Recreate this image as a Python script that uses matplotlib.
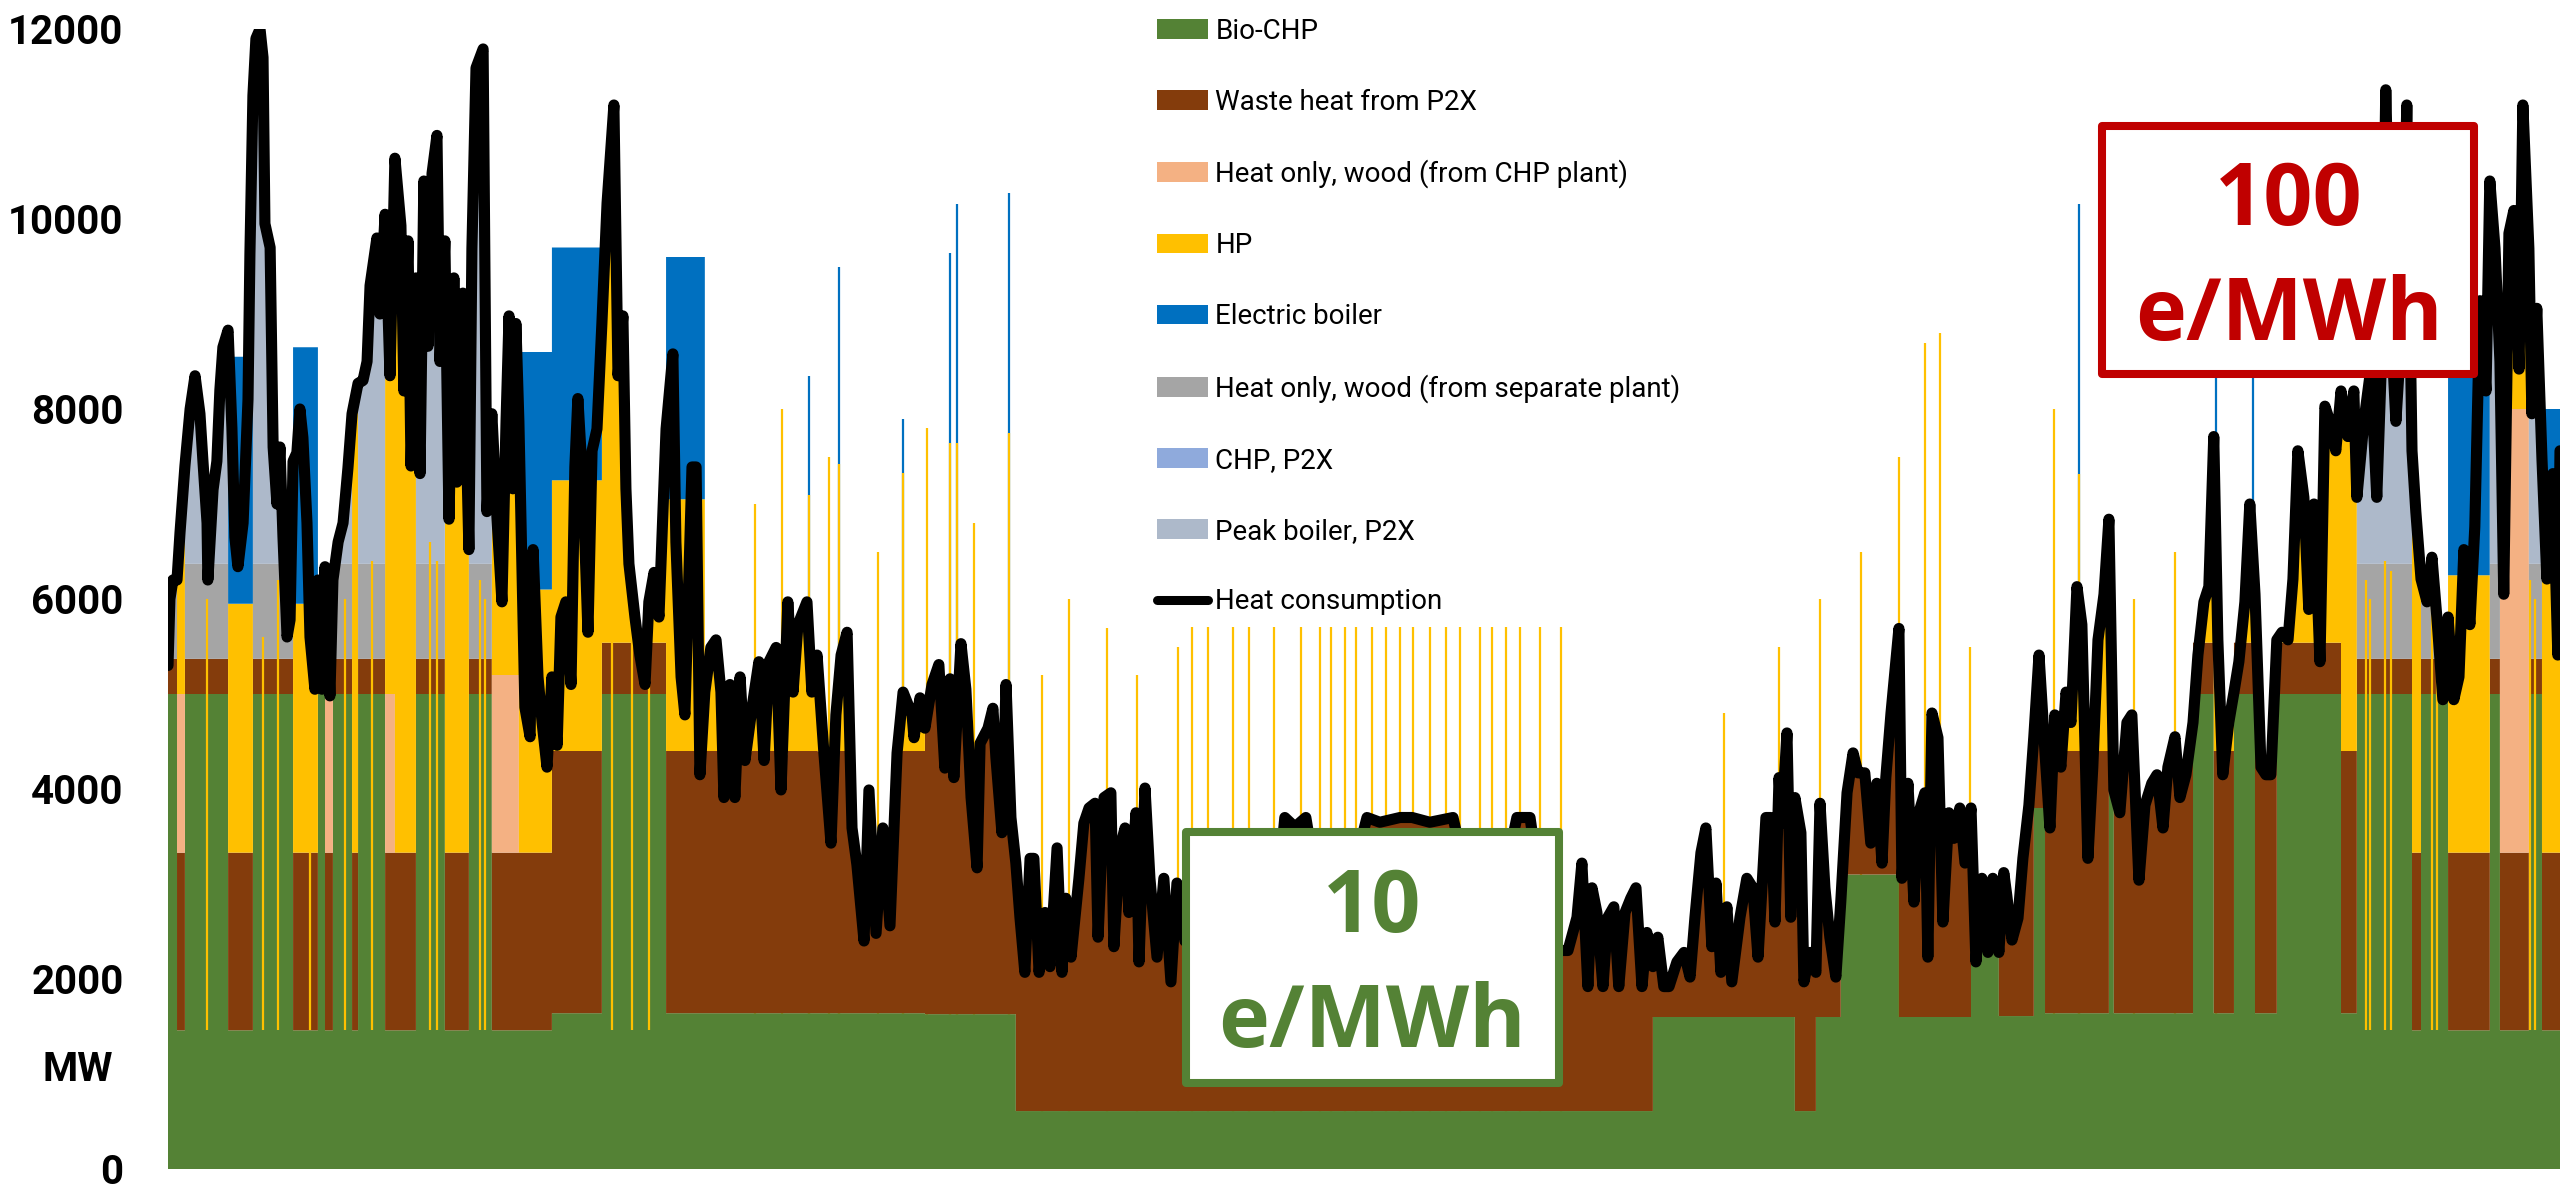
import numpy as np
import matplotlib.pyplot as plt
from matplotlib.patches import Rectangle

# hour of year -> heat consumption (MW)
hours = np.array([
    0, 7, 18, 33, 44, 62, 81, 99, 117, 128, 143, 146, 165, 179, 190, 201, 220, 234, 245, 256,
    275, 293, 300, 311, 322, 337, 348, 355, 374, 385, 399, 410, 421, 436, 447, 458, 472, 483, 494, 509,
    520, 538, 549, 564, 575, 593, 604, 623, 641, 659, 674, 696, 714, 729, 740, 765,
    776, 795, 813, 831, 853, 864, 879, 890, 908, 923, 937, 952, 967, 985, 996, 1014, 1029, 1047, 1058, 1080,
    1102, 1113, 1128, 1154, 1168, 1186, 1205, 1223, 1238, 1249, 1263, 1274, 1285, 1307, 1326, 1337, 1355, 1370, 1388, 1406,
    1425, 1439, 1457, 1476, 1490, 1501, 1520, 1538, 1553, 1571, 1589, 1608, 1633, 1648, 1666, 1677, 1688, 1710, 1728, 1747,
    1761, 1780, 1798, 1824, 1849, 1860, 1879, 1893, 1919, 1934, 1948, 1966, 1988, 2007, 2025, 2036, 2058, 2076, 2095, 2113,
    2139, 2164, 2183, 2201, 2227, 2245, 2270, 2289, 2307, 2340, 2358, 2377, 2402, 2428, 2446, 2465, 2487, 2505, 2523, 2549,
    2567, 2593, 2618, 2644, 2670, 2692, 2725, 2732, 2754, 2772, 2798, 2823, 2845, 2864, 2878, 2904, 2922, 2941, 2963, 2974,
    3003, 3021, 3032, 3054, 3069, 3087, 3105, 3120, 3138, 3157, 3171, 3190, 3212, 3230, 3256, 3274, 3288, 3307, 3336, 3354,
    3373, 3395, 3406, 3428, 3453, 3464, 3486, 3505, 3519, 3545, 3556, 3578, 3596, 3622, 3647, 3673, 3695, 3724, 3779, 3834,
    3889, 3944, 3999, 4054, 4090, 4127, 4167, 4219, 4274, 4329, 4391, 4438, 4512, 4556, 4621, 4706, 4768, 4841, 4896, 4940,
    4988, 5043, 5083, 5127, 5160, 5178, 5200, 5215, 5233, 5255, 5273, 5295, 5313, 5336, 5357, 5376, 5398, 5416, 5438, 5456,
    5478, 5497, 5526, 5552, 5574, 5592, 5614, 5632, 5654, 5669, 5687, 5709, 5727, 5757, 5782, 5804, 5823, 5852, 5870, 5885,
    5900, 5910, 5929, 5943, 5958, 5980, 5991, 6013, 6035, 6050, 6068, 6086, 6108, 6126, 6149, 6171, 6189, 6214, 6236, 6258,
    6277, 6291, 6310, 6339, 6350, 6372, 6394, 6412, 6434, 6445, 6460, 6482, 6500, 6522, 6540, 6562, 6581, 6603, 6621, 6643,
    6665, 6683, 6705, 6723, 6734, 6753, 6775, 6793, 6815, 6833, 6852, 6874, 6892, 6910, 6932, 6951, 6969, 6991, 7009, 7031,
    7049, 7068, 7090, 7108, 7126, 7148, 7174, 7192, 7218, 7240, 7265, 7284, 7306, 7324, 7350, 7368, 7390, 7416, 7434, 7456,
    7474, 7492, 7507, 7525, 7547, 7566, 7584, 7606, 7624, 7643, 7665, 7683, 7701, 7723, 7742, 7764, 7782, 7800, 7822, 7840,
    7859, 7881, 7899, 7917, 7939, 7958, 7983, 8005, 8016, 8042, 8067, 8089, 8108, 8122, 8141, 8159, 8181, 8199, 8218, 8232,
    8251, 8273, 8291, 8309, 8331, 8350, 8371, 8390, 8408, 8430, 8448, 8467, 8489, 8503, 8522, 8540, 8554, 8573, 8591, 8610,
    8624, 8646, 8657, 8675, 8694, 8712, 8734, 8752, 8760])
consumption = np.array([
    5300, 6000, 6200, 6200, 6700, 7400, 8000, 8350, 7950, 7450, 6800, 6200, 7150, 7450, 8200, 8650, 8830, 7800, 6650, 6340,
    6800, 8100, 9630, 11300, 11900, 12000, 11700, 9950, 9700, 7600, 7000, 7600, 6660, 5600, 5780, 7450, 7540, 8000, 7700, 6800,
    5600, 5050, 6200, 5050, 6340, 4980, 6200, 6600, 6800, 7380, 7950, 8270, 8300, 8500, 9300, 9800,
    9000, 10050, 8350, 10640, 9930, 8190, 9770, 7400, 9380, 7320, 10400, 8660, 10480, 10880, 8500, 9770, 6840, 9380, 7230, 9220,
    6520, 9690, 11590, 11790, 6920, 7950, 6840, 5970, 7870, 8980, 7160, 8900, 7870, 4860, 4550, 6520, 5180, 4700, 4230, 5180,
    4460, 5810, 5970, 5100, 7390, 8110, 7160, 5650, 7560, 7790, 8900, 10170, 11200, 8350, 8980, 7160, 6370, 5810, 5410, 5100,
    5970, 6280, 5810, 7790, 8580, 6600, 5180, 4780, 7390, 7390, 4150, 5020, 5490, 5570, 5020, 3910, 5100, 3910, 5180, 4300,
    4860, 5340, 4300, 5340, 5490, 3990, 5970, 5020, 5730, 5970, 5020, 5410, 4380, 3430, 4780, 5410, 5650, 3590, 3200, 2400,
    3990, 2480, 3590, 2560, 4380, 5020, 4780, 4540, 4960, 4640, 5100, 5310, 4220, 5160, 4120, 5530, 5050, 3910, 3170, 4480,
    4640, 4850, 4330, 3540, 5100, 3700, 3220, 2650, 2070, 3270, 3270, 2070, 2700, 2130, 3380, 2070, 2850, 2230, 3060, 3640,
    3800, 3850, 2440, 3910, 3960, 2340, 3380, 3590, 2700, 3750, 2180, 4010, 3060, 2230, 3060, 1970, 3010, 2400, 2900, 2200,
    3000, 2500, 3100, 2600, 3700, 3600, 3700, 2800, 2300, 3000, 3700, 3650, 3700, 3700, 3650, 3700, 2900, 2400, 3100, 3700,
    3700, 2600, 2300, 2300, 2650, 3220, 1920, 2960, 2700, 1920, 2650, 2760, 1920, 2700, 2850, 2960, 1920, 2490, 2130, 2440,
    1920, 1920, 2180, 2280, 2020, 2650, 3330, 3590, 2340, 3010, 2070, 2760, 1970, 2650, 3060, 2960, 2230, 3700, 3700, 2600,
    4120, 3640, 4590, 2650, 3910, 3540, 1970, 2280, 2070, 3850, 2960, 2440, 2020, 2810, 3960, 4380, 4170, 4170, 3430, 4060,
    3220, 4120, 4800, 5690, 3060, 4060, 2810, 3750, 3960, 2230, 4800, 4540, 2600, 3750, 3480, 3800, 3220, 3800, 2180, 3060,
    2280, 3060, 2280, 3120, 2880, 2410, 2640, 3270, 3830, 4550, 5410, 4380, 3590, 4780, 4230, 5020, 4700, 6130, 5730, 3270,
    4230, 5570, 6050, 6840, 3990, 3750, 4700, 4780, 3040, 3830, 4060, 4150, 3590, 4230, 4550, 3910, 4150, 4700, 5410, 5970,
    6130, 7710, 5570, 4150, 4700, 5020, 5340, 5970, 7000, 6050, 4230, 4150, 4150, 5570, 5650, 5570, 6210, 7560, 7070, 5890,
    7000, 5340, 8030, 7870, 7560, 8190, 7710, 8190, 7070, 7870, 8420, 7070, 8660, 11360, 8900, 7870, 8900, 11200, 7560, 6920,
    6210, 5970, 6440, 5810, 4940, 5810, 4940, 5180, 6520, 5730, 6760, 9140, 8190, 10400, 9690, 8500, 6050, 9850, 10090, 8420,
    11200, 9690, 7950, 9060, 7470, 6210, 7320, 5410, 7560])

# operating regimes seen in the stack (start hour, kind, level params)
seg_start = [0, 37, 62, 216, 308, 454, 549, 582, 600, 685,
             703, 787, 842, 912, 1014, 1106, 1179, 1289, 1410, 1582,
             1813, 1974, 2779, 3105, 5445, 5958, 6028, 6126, 6339, 6610,
             6709, 6826, 6866, 7101, 7126, 7423, 7492, 7573, 7650, 7723,
             7965, 8027, 8221, 8258, 8357, 8503, 8540, 8639, 8686]
seg_kind = ['A', 'P', 'A', 'B', 'A', 'B', 'A', 'P', 'A', 'Y',
            'A', 'P', 'Y', 'A', 'Y', 'A', 'P', 'B', 'B2', 'S',
            'B2', 'M', 'G', 'G', 'G', 'G', 'G', 'G', 'G', 'G',
            'G', 'G', 'M', 'S', 'M', 'S', 'M', 'S', 'M', 'S',
            'M', 'A', 'Y', 'A', 'B', 'A', 'P', 'A', 'B']
seg_p1 = [0, 5000, 0, 5950, 0, 5950, 0, 5000, 0, 0,
          0, 5000, 0, 0, 0, 0, 5200, 6100, 7250, 0,
          7050, 0, 1630, 610, 1600, 610, 1600, 3100, 1600, 2500,
          1610, 3800, 0, 0, 0, 0, 0, 0, 0, 0,
          0, 0, 0, 0, 6250, 0, 8000, 0, 6300]
seg_p2 = [0, 0, 0, 8550, 0, 8650, 0, 0, 0, 0,
          0, 0, 0, 0, 0, 0, 0, 8600, 9700, 0,
          9600, 0, 0, 0, 0, 0, 0, 0, 0, 0,
          0, 0, 0, 0, 0, 0, 0, 0, 0, 0,
          0, 0, 0, 0, 8500, 0, 0, 0, 8000]

# single-hour peaks of HP / electric boiler above the stack
spike_hours = [2347, 2457, 2692, 2864, 2889, 3080, 6998, 7500, 7635,
               3439, 4219, 4310, 4409, 4512, 4621, 4731, 4805, 4951, 5024,
               6339, 6434, 6489, 6907, 2150, 2250, 2420, 2600, 2780, 2950,
               3200, 3300, 3550, 3700, 5700, 5900, 6050, 6200, 6600, 7200, 7350,
               3750, 3810, 3900, 3960, 4050, 4150, 4260, 4350, 4460, 4560, 4680, 4850, 4900, 5100]
spike_hp = [7100, 7420, 7330, 7640, 7640, 7750, 7320, 7700, 6800,
            5700, 6500, 7000, 6000, 8000, 6500, 7500, 6000, 7000, 6500,
            7500, 8700, 8800, 8000, 7000, 8000, 7500, 6500, 7800, 6800,
            5200, 6000, 5200, 5500, 4800, 5500, 6000, 6500, 5500, 6000, 6500,
            6500, 6000, 7000, 6500, 6500, 7000, 6000, 6500, 7000, 6500, 6000, 7000, 6500, 6000]
spike_eb = [8350, 9500, 7900, 9640, 10160, 10270, 10160, 8400, 8600] + [0] * 45

# short HP runs cutting through CHP hours
sliver_hours = [143, 348, 403, 520, 648, 747, 959, 985, 1142, 1160, 1625, 1700, 1760,
                8050, 8064, 8119, 8140, 8290, 8310, 8650, 8670]
sliver_top = [6000, 5600, 6200, 5800, 6000, 6400, 6600, 6400, 6200, 6000, 5800, 6000, 5900,
              6200, 6000, 6400, 6300, 6000, 5900, 6200, 6000]

names = ['Bio-CHP', 'Waste heat from P2X', 'Heat only, wood (from CHP plant)', 'HP',
         'Electric boiler', 'Heat only, wood (from separate plant)', 'CHP, P2X', 'Peak boiler, P2X']
colors = ['#548235', '#843C0C', '#F4B183', '#FFC000', '#0070C0', '#A5A5A5', '#8FAADC', '#ADB9CA']


def mix(kind, c, p1, p2):
    # bio, waste, chp_wood, hp, eboiler, sep_wood, chp_p2x, peak
    z = [0.0] * 8
    if kind == 'A':
        z[0], z[1] = 5000, 370
        z[5] = min(max(c - 5370, 0), 1000)
        z[7] = max(c - 6370, 0)
    elif kind == 'B':
        z[0], z[1] = 1460, 1870
        z[3], z[4] = p1 - 3330, p2 - p1
    elif kind == 'B2':
        z[0], z[1] = 1640, 2760
        z[3], z[4] = p1 - 4400, p2 - p1
    elif kind == 'P':
        z[0], z[1] = 1460, 1870
        z[2] = p1 - 3330
        z[3] = max(c - p1, 0)
    elif kind == 'Y':
        z[0], z[1] = 1460, 1870
        z[3] = max(c - 3330, 0)
    elif kind == 'S':
        z[0], z[1] = 5000, 540
        z[3] = max(c - 5540, 0)
    elif kind == 'M':
        z[0] = 1640
        z[1] = min(max(c - 1640, 0), 2760)
        z[3] = max(c - 4400, 0)
    else:
        z[0] = p1
        z[1] = max(c - p1, 0)
    return z


mids = (hours[:-1] + hours[1:]) / 2
xs, rows = [], []
for i in range(len(hours)):
    for m in ([mids[i - 1]] if i > 0 else []) + ([mids[i]] if i < len(mids) else []):
        s = np.searchsorted(seg_start, m, side='right') - 1
        xs.append(hours[i])
        rows.append(mix(seg_kind[s], consumption[i], seg_p1[s], seg_p2[s]))
rows = np.array(rows).T

fig = plt.figure(figsize=(25.6, 11.99), dpi=100)
ax = fig.add_axes([168 / 2560, 30 / 1199, 2392 / 2560, 1140 / 1199])

ax.vlines(spike_hours, 0, spike_eb, color=colors[4], lw=1.6, zorder=1)
ax.vlines(spike_hours, 0, spike_hp, color=colors[3], lw=1.6, zorder=1.2)
polys = ax.stackplot(xs, rows, colors=colors, labels=names, lw=0, zorder=2)
ax.vlines(sliver_hours, 1460, sliver_top, color=colors[3], lw=1.6, zorder=2.5)
line, = ax.plot(hours, consumption, color='black', lw=8, solid_joinstyle='round',
                solid_capstyle='round', zorder=4, label='Heat consumption')

ax.set_xlim(0, 8760)
ax.set_ylim(0, 12000)
ax.set_xticks([])
ax.set_yticks(np.arange(0, 12001, 2000))
ax.tick_params(axis='y', length=0, pad=32)
for t in ax.get_yticklabels():
    t.set_fontfamily(['Roboto', 'DejaVu Sans'])
    t.set_fontweight('bold')
    t.set_fontsize(29)
for s in ax.spines.values():
    s.set_visible(False)

fig.text(78 / 2560, 1 - 1070 / 1199, 'MW', ha='center', va='center', fontsize=29,
         fontweight='bold', family=['Roboto', 'DejaVu Sans'])

fs = 20
leg = ax.legend(handles=list(polys) + [line], loc='upper left',
                bbox_to_anchor=(1132 / 2560, 1.006), bbox_transform=fig.transFigure,
                prop=dict(family=['Roboto', 'DejaVu Sans'], size=fs),
                frameon=True, facecolor='white', edgecolor='none', framealpha=1,
                fancybox=False, borderpad=0.4, handlelength=1.85, handleheight=0.72,
                handletextpad=0.25, labelspacing=1.58)
leg.set_zorder(6)
leg.get_lines()[0].set_linewidth(6.5)

# price annotations
for (x0, y0, w, h), col, big, base1, base2, xc in [
        ((1186, 1083, 373, 251), '#548235', '10', 932, 1047, 1372),
        ((2102, 374, 372, 248), '#C00000', '100', 225, 340, 2289)]:
    fig.patches.append(Rectangle((x0 / 2560, 1 - y0 / 1199), w / 2560, h / 1199,
                                 transform=fig.transFigure, facecolor='white',
                                 edgecolor=col, lw=5.8, joinstyle='round', zorder=7))
    for txt, b in [(big, base1), ('e/MWh', base2)]:
        fig.text(xc / 2560, 1 - b / 1199, txt, ha='center', va='baseline', color=col,
                 fontsize=62, fontweight='bold', family=['Open Sans', 'DejaVu Sans'], zorder=8)

fig.savefig('out.png', dpi=100)
